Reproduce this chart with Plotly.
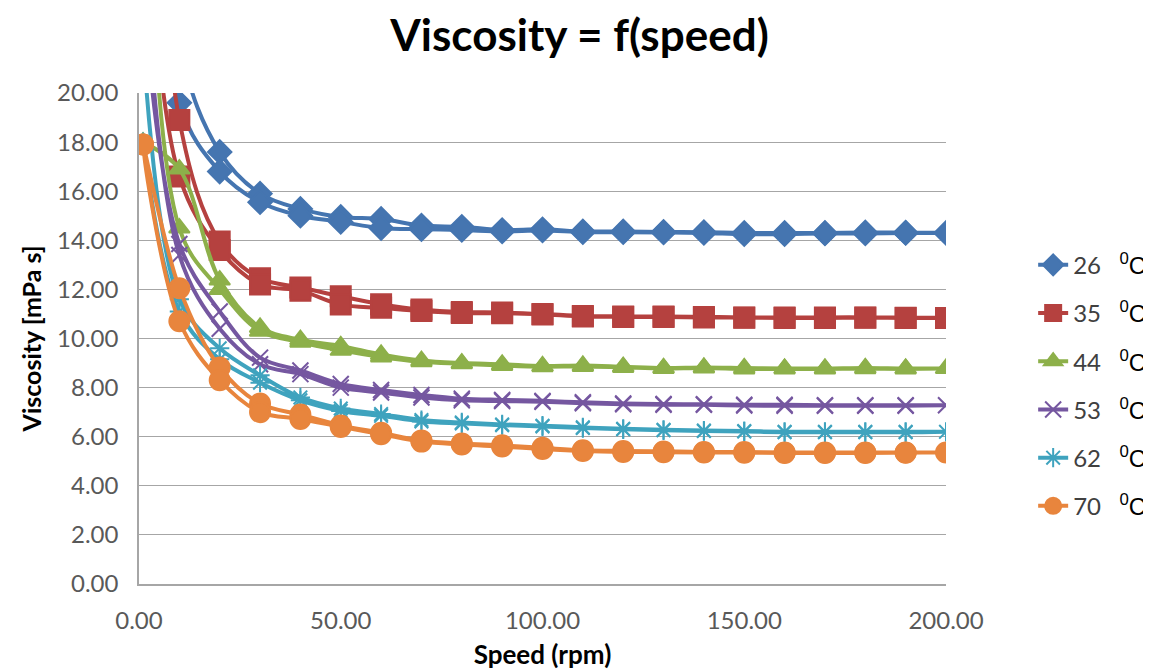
import plotly.graph_objects as go

speeds = [1, 10, 20, 30, 40, 50, 60, 70, 80, 90, 100, 110, 120, 130, 140, 150, 160, 170, 180, 190, 200]
temps = ["26", "35", "44", "53", "62", "70"]

# two sweeps per temperature (increasing speed, then decreasing speed)
v26_up = [45, 22.0, 17.6, 15.9, 15.28, 14.95, 14.87, 14.6, 14.55, 14.42, 14.45, 14.36, 14.36, 14.34, 14.33, 14.3, 14.3, 14.3, 14.32, 14.31, 14.3]
v26_dn = [40, 19.6, 16.8, 15.55, 15.0, 14.75, 14.5, 14.45, 14.42, 14.36, 14.4, 14.33, 14.33, 14.32, 14.3, 14.25, 14.25, 14.28, 14.28, 14.3, 14.3]
v35_up = [45, 18.9, 13.95, 12.45, 12.08, 11.72, 11.4, 11.18, 11.08, 11.06, 11.0, 10.92, 10.9, 10.9, 10.88, 10.86, 10.86, 10.86, 10.86, 10.85, 10.84]
v35_dn = [30, 16.6, 13.6, 12.2, 11.95, 11.38, 11.25, 11.12, 11.04, 11.03, 10.98, 10.9, 10.88, 10.88, 10.86, 10.85, 10.84, 10.84, 10.85, 10.84, 10.84]
v44_up = [18.0, 16.9, 12.38, 10.45, 9.95, 9.7, 9.35, 9.1, 9.0, 8.95, 8.88, 8.9, 8.85, 8.8, 8.82, 8.8, 8.78, 8.78, 8.8, 8.78, 8.78]
v44_dn = [42, 14.5, 12.0, 10.3, 9.85, 9.52, 9.25, 9.05, 8.97, 8.9, 8.85, 8.86, 8.82, 8.78, 8.8, 8.76, 8.76, 8.76, 8.77, 8.76, 8.78]
v53_up = [24, 13.85, 11.1, 9.22, 8.7, 8.15, 7.9, 7.7, 7.55, 7.5, 7.46, 7.4, 7.35, 7.33, 7.32, 7.3, 7.3, 7.28, 7.28, 7.28, 7.28]
v53_dn = [26, 13.4, 10.4, 8.95, 8.55, 8.0, 7.8, 7.6, 7.48, 7.45, 7.42, 7.36, 7.32, 7.3, 7.3, 7.27, 7.26, 7.26, 7.26, 7.26, 7.28]
v62_up = [22, 11.6, 9.6, 8.5, 7.6, 7.15, 6.92, 6.68, 6.58, 6.5, 6.45, 6.38, 6.32, 6.28, 6.25, 6.23, 6.2, 6.2, 6.2, 6.2, 6.2]
v62_dn = [18.0, 11.1, 9.15, 8.2, 7.48, 7.05, 6.85, 6.62, 6.54, 6.47, 6.42, 6.35, 6.3, 6.26, 6.23, 6.21, 6.18, 6.18, 6.18, 6.18, 6.2]
v70_up = [17.9, 12.05, 8.82, 7.35, 6.9, 6.46, 6.16, 5.85, 5.72, 5.65, 5.55, 5.45, 5.42, 5.4, 5.38, 5.38, 5.36, 5.36, 5.36, 5.36, 5.36]
v70_dn = [17.9, 10.7, 8.3, 7.0, 6.72, 6.4, 6.1, 5.8, 5.68, 5.6, 5.5, 5.42, 5.38, 5.37, 5.36, 5.35, 5.34, 5.34, 5.34, 5.35, 5.36]

ups = [v26_up, v35_up, v44_up, v53_up, v62_up, v70_up]
dns = [v26_dn, v35_dn, v44_dn, v53_dn, v62_dn, v70_dn]

colors = ["#4575B0", "#B5413F", "#8DB04A", "#7557A0", "#3FA3BE", "#E8853D"]
symbols = ["diamond", "square", "triangle-up", "x-thin-open", "asterisk-open", "circle"]
sizes = [18, 20, 18, 16, 16, 20]

fig = go.Figure()
for t, up, dn, c, s, sz in zip(temps, ups, dns, colors, symbols, sizes):
    xs = speeds + speeds[::-1][1:]
    ys = up + dn[::-1][1:]
    fig.add_trace(go.Scatter(
        x=xs, y=ys, mode="lines+markers",
        name=f'{t}   <span style="color:black;font-family:Liberation Sans"><sup>0</sup>C</span>',
        line=dict(color=c, width=4, shape="spline", smoothing=1.0),
        marker=dict(symbol=s, size=sz, color=c, line=dict(color=c, width=2)),
        legendgroup=t, cliponaxis=True,
    ))

fig.update_layout(
    width=1143, height=662,
    paper_bgcolor="white", plot_bgcolor="white",
    margin=dict(l=131, r=205, t=85, b=86, autoexpand=False),
    font=dict(family="Lato, Open Sans, sans-serif", color="#595959", size=24),
    title=dict(text="<b>Viscosity = f(speed)</b>", x=0.5, xanchor="center", y=0.959, yanchor="middle",
               font=dict(size=44, color="black", family="Lato, Open Sans, sans-serif")),
    legend=dict(x=1.108, y=0.695, xanchor="left", yanchor="top", tracegroupgap=14,
                font=dict(size=24, color="#404040"), bgcolor="rgba(0,0,0,0)"),
    showlegend=True,
)
fig.update_xaxes(range=[0, 200], dtick=50, tickformat=".2f", showgrid=False, ticklabelstandoff=14,
                 automargin=False,
                 showline=True, linecolor="#A6A6A6", linewidth=1.5, ticks="", zeroline=False,
                 title=dict(text="<b>Speed (rpm)</b>", font=dict(size=26, color="black"), standoff=14))
fig.update_yaxes(range=[0, 20], dtick=2, tickformat=".2f", showgrid=True, gridcolor="#A6A6A6", gridwidth=1,
                 ticklabelstandoff=14, automargin=False,
                 showline=True, linecolor="#A6A6A6", linewidth=1.5, ticks="", zeroline=False,
                 title=dict(text="<b>Viscosity [mPa s]</b>", font=dict(size=25, color="black"), standoff=8))

fig.write_html("out.html")
